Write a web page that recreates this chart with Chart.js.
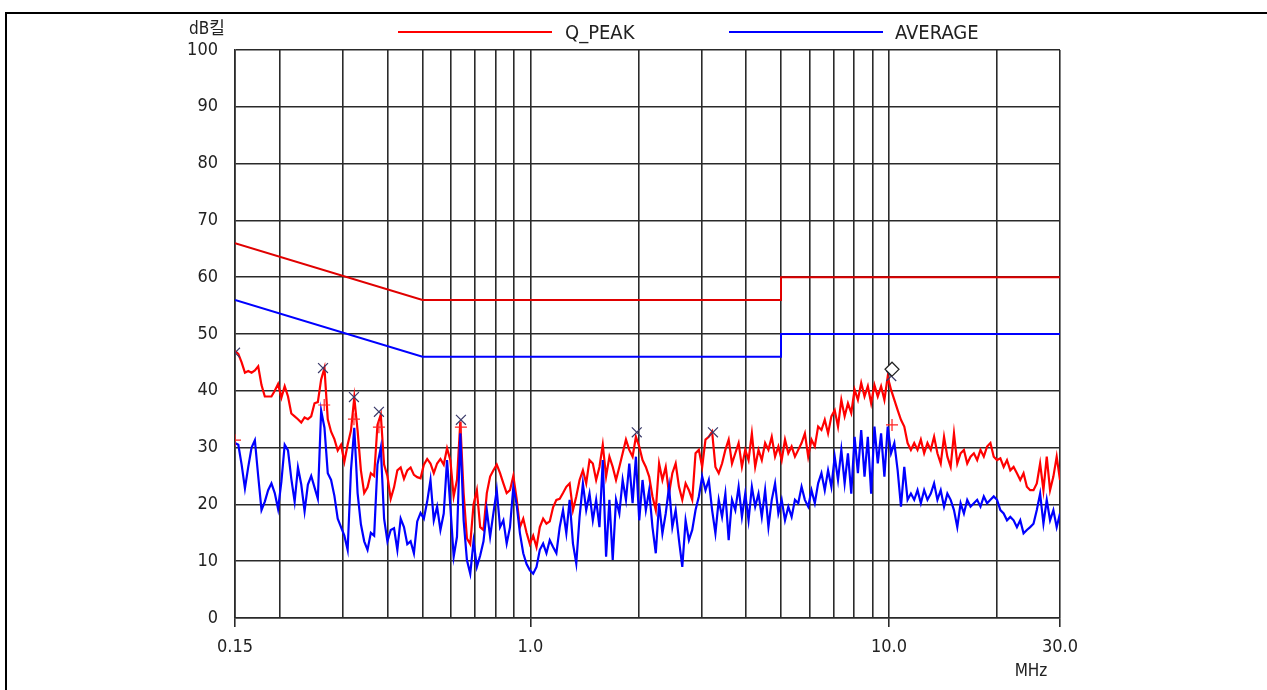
<!DOCTYPE html>
<html>
<head>
<meta charset="utf-8">
<script src="https://cdn.jsdelivr.net/npm/chart.js@4.4.1/dist/chart.umd.min.js"></script>
<style>
  body { margin: 0; background: #fff; }
  canvas { display: block; }
</style>
</head>
<body>
<canvas id="emiChart" width="1267" height="690"></canvas>
<script>
// receiver sweep, log spaced
const sweepStart = 0.15;
const sweepStop = 30.0;

// Q_PEAK trace (dB), one reading per sweep step
const qpTrace = [
  47, 46.5, 45, 43.2, 43.5, 43.2, 43.6, 44.3, 41, 39, 39, 39, 40, 41.2, 38.8, 40.8, 39, 36, 35.5, 35,
  34.4, 35.3, 35, 35.5, 37.8, 38, 42, 44, 35, 32.8, 31.5, 29.5, 30.5, 27.5, 30.5, 33, 38.8, 33, 26, 22,
  23, 25.5, 25, 34, 35.8, 27, 25, 21, 23, 26, 26.5, 24.5,
  26, 26.5, 25.2, 24.8, 24.6, 27, 28, 27.2, 25.5, 27.2, 28, 27, 29.9, 27.8, 21.4, 24.3, 34.5, 22, 14, 13,
  20, 22.5, 16, 15.5, 22, 24.9, 26, 27, 25.5, 23.7, 22, 22.5, 25, 21, 16, 17.5, 15, 13, 14.5, 12.5,
  16, 17.5, 16.6, 17, 19.5, 20.8, 21, 22, 23.1,
  23.7, 19, 21.4, 24.3, 26, 23.7, 27.8, 27.2, 24.3, 26.6, 30.5, 24.9, 28.4, 26.6, 24.3, 26.6, 29, 31.4, 29.6, 28.4,
  31.9, 30.2, 27.8, 26.6, 24.9, 21.4, 19, 27.2, 24.3, 26.6, 21.9, 25.5, 27.2, 23.1, 20.8, 23.7, 22.5, 20.8, 29, 29.6,
  26.6, 31.4, 31.9, 32.8, 26.6, 25.5, 27.2, 29.6, 31.4, 27.2, 29, 30.8,
  26.6, 29.6, 27.8, 32.5, 26.6, 29.6, 27.8, 30.8, 29.6, 31.9, 28.4, 30.2, 27.8, 31.4, 29, 30.2, 28.4, 29.6, 30.8, 32.5,
  28.4, 31.4, 30.2, 33.7, 33.1, 34.9, 32.5, 35.5, 36.6, 33.7, 38.4, 35.5, 37.8, 36.1, 40.2, 38.4, 41.4, 39, 40.8, 37.8,
  41, 39, 40.8, 38.4, 42.5, 40.2, 38.4, 36.6, 34.9, 33.7, 30.8, 29.6,
  30.8, 29.6, 31.4, 29, 30.8, 29.6, 31.9, 29, 27.2, 31.9, 28.4, 26.6, 32.5, 27.2, 29, 29.6, 27.2, 28.4, 29, 27.8,
  29.6, 28.4, 30.2, 30.8, 28.4, 27.8, 28.1, 26.6, 27.8, 26, 26.6, 25.5, 24.3, 25.5, 23.1, 22.5, 22.5, 23.7, 27.2, 22.5,
  28.4, 22.5, 24.9, 28.4, 24.3
];

// AVERAGE trace (dB)
const avgTrace = [
  30.8, 30.5, 27, 22.8, 26.6, 30, 31.3, 25, 19, 20.5, 22.5, 23.7, 22, 19.2, 24, 30.5, 29.5, 24.5, 20.5, 26.5,
  23.5, 18.8, 23.5, 25, 23, 21, 36.5, 33.5, 25.5, 24.3, 21.5, 17.5, 16, 14.5, 12, 26, 33.5, 22, 16.5, 13.5,
  12, 15, 14.5, 27, 30, 17.5, 13.5, 15.5, 15.8, 12, 17.5, 16,
  13, 13.5, 11.4, 17, 18.5, 17.5, 20.5, 24.3, 17.2, 19.6, 15.5, 18.4, 27.8, 19.6, 10.8, 14.3, 32.5, 17.2, 10.2, 7.8,
  13.5, 9, 11, 13.5, 19, 14.3, 18.5, 22.5, 16, 17.2, 13.1, 16, 23, 20, 14.9, 11.4, 9.5, 8.4, 7.8, 9,
  12, 13.1, 11.4, 13.7, 12.5, 11.4, 16, 19, 14.9,
  20.8, 13.1, 9.6, 17.8, 23.7, 19, 21.9, 17.2, 20.8, 16, 27.8, 10.8, 20.8, 10.2, 20.8, 18.4, 24.3, 20.8, 27.2, 20.2,
  28.4, 17.2, 24.3, 19, 22.5, 16, 11.4, 20.2, 14.9, 18.4, 23.1, 16, 19, 13.7, 9, 17.2, 13.7, 15.5, 19, 21.4,
  24.9, 22.5, 24.3, 19, 14.9, 20.8, 17.8, 21.9, 13.7, 20.8, 19, 23.1,
  17.8, 21.9, 17.2, 23.1, 19.6, 21.9, 17.8, 22.5, 16, 20.8, 23.7, 18.4, 20.8, 17.2, 19.6, 17.8, 20.8, 20.2, 23.1, 20.8,
  19.6, 22.5, 20.2, 23.7, 25.5, 22.5, 26, 23.1, 28.4, 24.3, 29.6, 23.7, 29, 21.9, 31.9, 25.5, 33.1, 24.9, 31.9, 21.9,
  33.7, 27.2, 32.5, 24.9, 33.7, 29, 30.8, 26, 19.6, 26.6, 20.8, 21.9,
  20.8, 22.5, 20.2, 22.5, 20.8, 21.9, 23.7, 20.8, 22.5, 19.6, 21.9, 20.8, 19, 16, 20.2, 18.4, 20.8, 19.6, 20.2, 20.8,
  19.6, 21.4, 20.2, 20.8, 21.4, 20.8, 19, 18.4, 17.2, 17.8, 17.2, 16, 17.2, 14.9, 15.5, 16, 16.6, 19, 21.9, 16.6,
  20.8, 17.2, 19, 16, 18.4
];

// limit lines [MHz, dB]
const qpLimit = [[0.15, 66], [0.5, 56], [5, 56], [5, 60], [30, 60]];
const avgLimit = [[0.15, 56], [0.5, 46], [5, 46], [5, 50], [30, 50]];

// markers [MHz, dB]
const peakMarks = [[0.15, 46.7], [0.264, 44], [0.322, 38.9], [0.378, 36.3], [0.64, 34.9], [1.98, 32.7], [3.23, 32.7], [10.15, 42.6]];
const avgMarks = [[0.15, 31.3], [0.266, 37.5], [0.322, 35], [0.378, 33.6], [0.64, 33.6], [10.2, 34]];
const finalMarks = [[10.2, 43.8]];

// axis ticks
const gridFreqs = [0.15, 0.2, 0.3, 0.4, 0.5, 0.6, 0.7, 0.8, 0.9, 1, 2, 3, 4, 5, 6, 7, 8, 9, 10, 20, 30];
const freqLabels = { 0.15: "0.15", 1: "1.0", 10: "10.0", 30: "30.0" };

function sweepXY(values) {
  const n = values.length;
  return values.map((v, i) => ({ x: sweepStart * Math.pow(sweepStop / sweepStart, i / (n - 1)), y: v }));
}
const toXY = (arr) => arr.map((p) => ({ x: p[0], y: p[1] }));

const narrow = "'Liberation Sans Narrow', 'DejaVu Sans Condensed', Arial, sans-serif";
const gridColor = "#2a2a2a";

const frame = {
  id: "frame",
  afterDraw(chart) {
    const c = chart.ctx;
    c.save();
    // page border
    c.strokeStyle = "#000";
    c.lineWidth = 2;
    c.beginPath();
    c.moveTo(6, 690);
    c.lineTo(6, 13);
    c.lineTo(1267, 13);
    c.stroke();

    // legend
    c.lineWidth = 2;
    c.strokeStyle = "#ff0000";
    c.beginPath(); c.moveTo(398, 32); c.lineTo(552, 32); c.stroke();
    c.strokeStyle = "#0000ff";
    c.beginPath(); c.moveTo(729, 32); c.lineTo(883, 32); c.stroke();
    c.fillStyle = "#222";
    c.font = "20px " + narrow;
    c.textBaseline = "middle";
    c.textAlign = "left";
    c.fillText("Q_PEAK", 565, 34);
    c.fillText("AVERAGE", 895, 34);

    // units
    c.font = "17px " + narrow + ", 'Noto Sans CJK KR'";
    c.fillText("dB킬", 189, 30);
    c.textAlign = "center";
    c.fillText("MHz", 1031, 672);
    c.restore();
  }
};

new Chart(document.getElementById("emiChart"), {
  type: "line",
  data: {
    datasets: [
      {
        label: "final",
        data: toXY(finalMarks),
        showLine: false,
        pointStyle: "rectRot",
        pointRadius: 7,
        borderColor: "#222",
        backgroundColor: "#fff",
        borderWidth: 1.2
      },
      {
        label: "peak marks",
        data: toXY(peakMarks),
        showLine: false,
        pointStyle: "crossRot",
        pointRadius: 7,
        borderColor: "#3a3a6a",
        borderWidth: 1.2
      },
      {
        label: "avg marks",
        data: toXY(avgMarks),
        showLine: false,
        pointStyle: "cross",
        pointRadius: 6,
        borderColor: "#ff2020",
        borderWidth: 1.2
      },
      {
        label: "AVERAGE",
        data: sweepXY(avgTrace),
        borderColor: "#0000ff",
        borderWidth: 2.2,
        pointRadius: 0,
        tension: 0
      },
      {
        label: "Q_PEAK",
        data: sweepXY(qpTrace),
        borderColor: "#ff0000",
        borderWidth: 2.2,
        pointRadius: 0,
        tension: 0
      },
      {
        label: "AVG limit",
        data: toXY(avgLimit),
        borderColor: "#0000ff",
        borderWidth: 2,
        pointRadius: 0,
        tension: 0
      },
      {
        label: "QP limit",
        data: toXY(qpLimit),
        borderColor: "#e00000",
        borderWidth: 2,
        pointRadius: 0,
        tension: 0
      }
    ]
  },
  options: {
    responsive: false,
    animation: false,
    events: [],
    layout: { padding: { left: 0, right: 207, top: 50, bottom: 0 } },
    plugins: {
      legend: { display: false },
      tooltip: { enabled: false }
    },
    scales: {
      x: {
        type: "logarithmic",
        min: 0.15,
        max: 30,
        afterBuildTicks: (scale) => {
          scale.ticks = gridFreqs.map((v) => ({ value: v }));
        },
        afterFit: (scale) => { scale.height = 72; },
        grid: {
          color: gridColor,
          lineWidth: 1.6,
          drawTicks: true,
          tickLength: 9,
          tickColor: (ctx) => (ctx.tick && freqLabels[ctx.tick.value] ? gridColor : "rgba(0,0,0,0)")
        },
        border: { color: gridColor, width: 1.6 },
        ticks: {
          autoSkip: false,
          maxRotation: 0,
          padding: 10,
          color: "#222",
          font: { family: narrow, size: 18 },
          callback: (v) => freqLabels[v] || ""
        }
      },
      y: {
        min: 0,
        max: 100,
        afterFit: (scale) => { scale.width = 235; },
        grid: { color: gridColor, lineWidth: 1.6, drawTicks: false },
        border: { color: gridColor, width: 1.6 },
        ticks: {
          stepSize: 10,
          padding: 17,
          color: "#222",
          font: { family: narrow, size: 18 }
        }
      }
    }
  },
  plugins: [frame]
});
</script>
</body>
</html>
